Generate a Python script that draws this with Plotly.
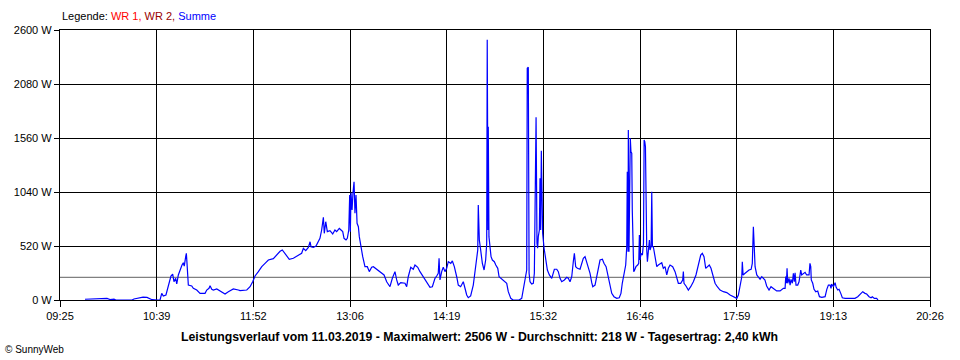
import plotly.graph_objects as go

# Time axis: minutes after 09:25 (axis start), power of "Summe" in W
minutes_after_0925 = [
    19.0, 22.8, 26.6, 30.4, 32.7, 35.7, 38.0, 41.0, 42.5, 54.7, 56.2, 59.3, 63.1, 66.1, 68.4, 69.9, 74.5,
    76.0, 77.3, 78.5, 80.5, 81.5, 83.0, 84.3, 85.6, 86.6, 87.9, 88.7, 89.9, 91.2, 92.7, 93.7, 94.4, 95.5,
    96.0, 96.5, 97.0, 97.5, 100.1, 101.3, 103.9, 106.4, 110.2, 111.5, 113.2, 114.0, 115.3, 116.5, 119.1,
    121.6, 125.4, 127.9, 131.7, 135.5,
    136.8, 141.9, 144.4, 146.4, 148.2, 150.7, 153.3, 155.8, 158.3, 162.1, 164.6, 167.2, 168.9, 171.0,
    174.2, 177.3, 179.8, 183.6, 184.9, 186.7, 188.7, 190.0, 190.7, 192.5, 194.5, 196.3, 197.5, 198.8,
    200.1, 200.8, 201.9, 203.1, 205.1, 207.2, 208.9, 210.2, 212.2, 213.5, 214.8, 215.8, 217.3, 218.3,
    219.4, 220.1, 220.6, 221.1, 221.9, 222.6, 223.4, 224.1, 224.9, 225.7, 226.7, 227.4, 228.5, 230.0,
    231.7, 233.5, 235.0, 236.8, 238.1, 240.6, 242.6, 244.4, 246.2, 248.2, 250.7, 252.5, 254.5, 255.8,
    257.0, 258.9, 262.1, 263.4, 264.6, 266.5, 268.4,
    269.7, 271.8, 273.5, 276.0, 278.6, 281.1, 282.9, 284.9, 286.2, 287.4, 288.0, 288.7, 290.0, 291.2,
    292.5, 293.8, 295.0, 296.9, 298.1, 299.6, 301.4, 302.6, 304.4, 306.4, 307.7, 309.0, 310.2, 312.0,
    314.0, 315.3, 316.6, 317.4, 317.8, 318.6, 319.6, 320.9, 322.2, 323.4, 324.2, 324.6, 325.2, 325.4,
    325.9, 326.7, 327.5, 328.5, 330.0, 331.1, 332.6, 333.6, 335.1, 336.1, 337.6, 339.4, 340.6, 342.5,
    344.2, 348.8, 350.8, 352.0, 353.3, 354.6, 355.0, 355.8, 356.4, 357.1, 358.4, 359.6, 360.4, 360.9,
    361.7, 362.4, 362.9, 363.4, 364.2, 364.7, 365.2, 365.7, 366.2, 366.7, 367.8, 368.5, 369.3, 370.3,
    371.8, 373.6, 375.6, 377.4, 378.6, 379.9, 381.2, 383.2, 385.0, 386.2, 387.5, 388.8, 390.0, 390.8,
    391.8, 393.1, 395.1, 396.4, 397.6, 398.9, 400.2, 401.4,
    402.7, 404.0, 404.8, 406.5, 407.8, 409.0, 410.3, 412.1, 413.3, 414.9, 416.6, 417.9, 419.2, 420.9,
    423.0, 424.9, 426.2, 427.2, 428.5, 429.8, 430.6, 431.0, 431.6, 431.8, 432.3, 432.9, 433.3, 433.8,
    434.4, 434.8, 435.3, 435.9, 436.6, 437.6, 438.9, 439.7, 440.2, 440.7, 441.5, 442.5, 443.3, 443.8,
    444.3, 444.8, 445.3, 445.8, 446.3, 447.0, 447.8, 448.3, 449.1, 449.6, 450.1, 450.8, 452.1, 453.4,
    454.6, 455.9, 457.2, 458.4, 459.7, 461.0, 462.2, 463.5, 465.5, 467.3, 468.6, 469.8, 471.6, 473.1,
    473.6, 474.1, 475.6, 477.4, 479.2, 481.2, 483.2, 485.0, 486.8, 488.0, 489.3, 490.6, 491.8, 493.3,
    494.6, 495.9, 497.7, 499.4, 501.5, 504.0, 506.6, 509.1, 511.6, 514.2, 515.4, 516.7, 518.0, 518.4,
    519.0, 520.5, 521.8, 523.5, 525.1, 526.0, 526.8, 527.4, 528.1, 529.4, 530.6, 531.9, 533.2, 534.4,
    535.6, 536.9, 538.7, 540.2, 542.0, 544.5, 547.1, 549.6, 550.9, 551.4, 551.9, 552.4, 552.9, 553.9,
    554.7, 555.4, 556.4, 557.2, 557.9, 558.5, 559.2, 560.5, 561.5, 562.2, 562.8, 563.5, 564.8, 566.1,
    567.3, 569.1, 569.8, 570.4, 570.8, 571.9, 572.9, 574.2, 575.7, 576.2, 577.0, 578.8, 581.3, 582.6,
    583.8, 585.1, 585.8, 586.3, 587.6, 588.9, 589.7, 590.9, 591.9, 593.2, 594.4, 596.5, 600.2, 604.0,
    606.1, 607.8, 609.9, 611.6, 612.9, 614.7, 616.2, 617.2, 618.7, 620.5, 621.5,
]
summe_w = [
    7, 8, 8, 10, 16, 16, 5, 8, 0, 0, 10, 20, 27, 25, 15, 3, 0,
    0, 64, 39, 48, 96, 161, 231, 250, 176, 209, 154, 241, 289, 337, 359, 327, 417,
    450, 353, 224, 144, 135, 113, 96, 64, 64, 96, 113, 138, 103, 96, 106,
    90, 58, 80, 106, 96,
    90, 96, 128, 176, 231, 273, 321, 353, 385, 398, 433, 469, 482, 443,
    392, 402, 424, 450, 498, 475, 507, 561, 513, 507, 520, 571, 594, 674,
    796, 642, 754, 658, 667, 636, 674, 658, 690, 674, 658, 594, 578, 594,
    674, 1011, 658, 1033, 867, 1033, 1139, 835, 1011, 739, 706, 610, 513, 417,
    321, 321, 273, 315, 321, 299, 273, 257, 241, 176, 128, 209, 273, 193,
    144, 167, 161, 128, 224, 315, 296,
    337, 315, 273, 224, 161, 122, 128, 209, 231, 257, 401, 193, 273, 315,
    273, 305, 369, 353, 376, 321, 224, 144, 128, 176, 113, 48, 22, 39,
    144, 257, 401, 482, 915, 578, 482, 353, 289, 385, 546, 2506, 674, 1669,
    610, 513, 417, 385, 369, 337, 305, 224, 209, 193, 186, 161, 80, 16,
    0, 0, 16, 96, 176, 289, 2231, 2241, 257, 176, 154, 161, 257, 738,
    1759, 546, 498, 610, 674, 1172, 674, 1438, 738, 642, 498, 450, 385, 289,
    241, 209, 296, 296, 273, 209, 176, 193, 218, 209, 176, 224, 369, 450,
    321, 305, 296, 353, 401, 417, 369, 305,
    257, 167, 128, 144, 224, 321, 385, 392, 353, 321, 224, 144, 64, 32,
    16, 22, 64, 161, 257, 337, 513, 1236, 465, 1637, 465, 1428, 1557, 1428,
    1413, 867, 642, 273, 289, 321, 337, 353, 626, 385, 450, 433, 546, 1541,
    1525, 1476, 610, 482, 369, 482, 578, 482, 513, 1043, 513, 513, 401, 321,
    337, 353, 359, 305, 321, 241, 305, 337, 321, 273, 209, 161, 161, 193,
    273, 161, 135, 96, 128, 176, 241, 353, 433, 450, 417, 305, 321, 337,
    305, 241, 161, 128, 96, 80, 71, 48, 32, 16, 48, 128, 224, 369,
    241, 257, 273, 289, 296, 353, 706, 546, 321, 241, 224, 199, 224, 209,
    193, 135, 96, 128, 112, 87, 87, 112, 112, 225, 161, 305, 161, 209,
    144, 199, 161, 257, 176, 263, 144, 144, 176, 241, 289, 241, 250, 266,
    241, 241, 353, 321, 193, 161, 103, 80, 87, 64, 32, 26, 32, 103,
    144, 144, 112, 154, 128, 167, 122, 96, 103, 64, 22, 16, 16, 16,
    32, 58, 80, 64, 58, 32, 22, 32, 16, 16, 0,
]

axis_start_min = 9 * 60 + 25   # 09:25
axis_end_min = 20 * 60 + 26    # 20:26
x_tick_labels = ["09:25", "10:39", "11:52", "13:06", "14:19", "15:32",
                 "16:46", "17:59", "19:13", "20:26"]
y_tick_values = [0, 520, 1040, 1560, 2080, 2600]
average_w = 218

title_text = ("Leistungsverlauf vom 11.03.2019 - Maximalwert: 2506 W - "
              "Durchschnitt: 218 W - Tagesertrag: 2,40 kWh")

x_minutes = [axis_start_min + m for m in minutes_after_0925]
n_ticks = len(x_tick_labels)
x_tick_vals = [axis_start_min + i * (axis_end_min - axis_start_min) / (n_ticks - 1)
               for i in range(n_ticks)]

fig = go.Figure()
fig.add_trace(go.Scatter(
    x=x_minutes, y=summe_w, mode="lines",
    line=dict(color="#0000FF", width=1.2), name="Summe", showlegend=False,
))

fig.add_shape(type="line", xref="paper", yref="y", x0=0, x1=1,
              y0=average_w, y1=average_w,
              line=dict(color="#808080", width=1.2), layer="below")

font_family = "Liberation Sans, Arial, sans-serif"

fig.update_layout(
    width=960, height=360,
    margin=dict(l=60, r=30, t=30, b=60),
    paper_bgcolor="white", plot_bgcolor="white",
    font=dict(family=font_family, size=11, color="black"),
    showlegend=False,
    xaxis=dict(
        range=[axis_start_min, axis_end_min],
        tickmode="array", tickvals=x_tick_vals, ticktext=x_tick_labels,
        showgrid=True, gridcolor="black", gridwidth=1.1,
        showline=True, linecolor="black", linewidth=1.2, mirror=True,
        ticks="outside", ticklen=6, tickcolor="black", tickwidth=1.2,
        zeroline=False, tickfont=dict(size=11),
    ),
    yaxis=dict(
        range=[0, 2600],
        tickmode="array", tickvals=y_tick_values,
        ticktext=[f"{v} W" for v in y_tick_values],
        showgrid=True, gridcolor="black", gridwidth=1.1,
        showline=True, linecolor="black", linewidth=1.2, mirror=True,
        ticks="outside", ticklen=5, tickcolor="black", tickwidth=1.2,
        zeroline=False, tickfont=dict(size=11),
    ),
    annotations=[
        dict(xref="paper", yref="paper", x=0, y=1, yshift=14,
             xanchor="left", yanchor="middle", showarrow=False,
             text=("Legende: <span style='color:#FF0000'>WR 1,</span> "
                   "<span style='color:#990000'>WR 2,</span> "
                   "<span style='color:#0000FF'>Summe</span>"),
             font=dict(size=11, color="black")),
        dict(xref="paper", yref="paper", x=0.4827, y=0, yshift=-37,
             xanchor="center", yanchor="middle", showarrow=False,
             text="<b>" + title_text + "</b>",
             font=dict(size=12.3, color="black")),
        dict(xref="paper", yref="paper", x=-0.066, y=0, yshift=-49,
             xanchor="left", yanchor="middle", showarrow=False,
             text="© SunnyWeb", font=dict(size=10, color="black")),
    ],
)

fig.write_html("out.html",
               config={"displayModeBar": False},
               post_script="document.body.style.margin='0';document.body.style.padding='0';")
